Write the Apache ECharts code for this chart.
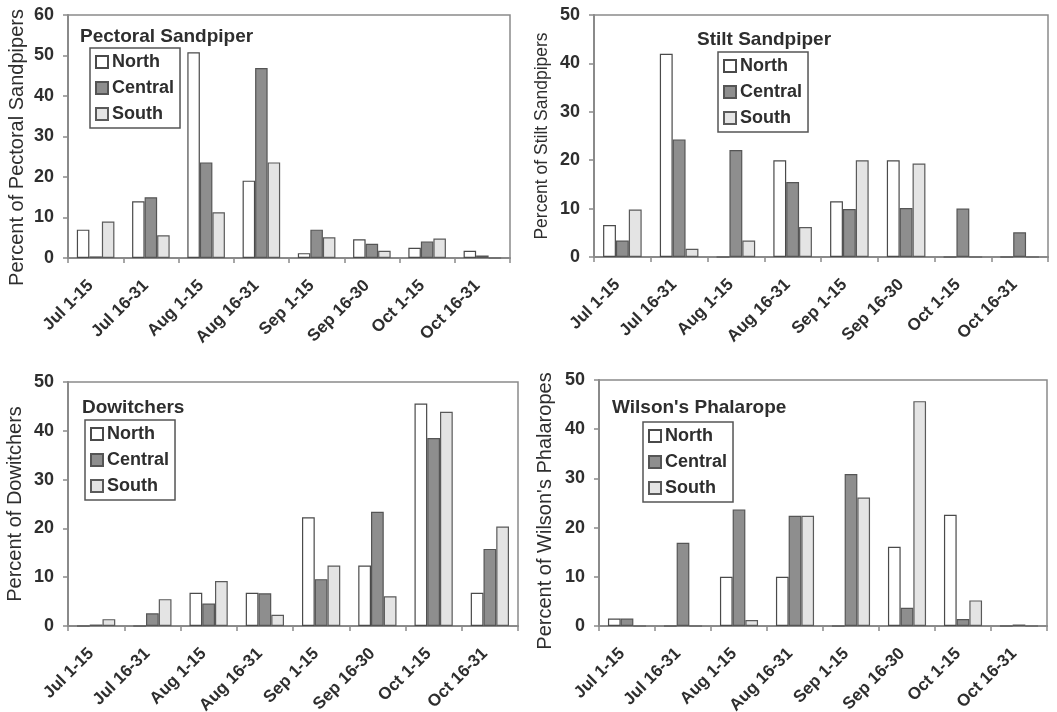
<!DOCTYPE html>
<html>
<head>
<meta charset="utf-8">
<script src="https://cdn.jsdelivr.net/npm/echarts@6/dist/echarts.min.js"></script>
<style>html,body{margin:0;padding:0;background:#fff;}#c{width:1057px;height:712px;}</style>
</head>
<body>
<div id="c"></div>
<script>
var categories = ['Jul 1-15','Jul 16-31','Aug 1-15','Aug 16-31','Sep 1-15','Sep 16-30','Oct 1-15','Oct 16-31'];
var seriesNames = ['North','Central','South'];

var pectoralNorth   = [7.0, 14.0, 50.8, 19.1, 1.2, 4.6, 2.5, 1.8];
var pectoralCentral = [0.4, 15.0, 23.6, 46.9, 7.0, 3.5, 4.1, 0.6];
var pectoralSouth   = [9.0, 5.6, 11.3, 23.6, 5.1, 1.8, 4.8, 0];

var stiltNorth   = [6.6, 42.0, 0, 20.0, 11.5, 20.0, 0, 0];
var stiltCentral = [3.4, 24.3, 22.1, 15.5, 9.9, 10.1, 10.0, 5.1];
var stiltSouth   = [9.8, 1.7, 3.4, 6.2, 20.0, 19.3, 0, 0];

var dowitNorth   = [0, 0, 6.8, 6.8, 22.3, 12.4, 45.6, 6.8];
var dowitCentral = [0.3, 2.6, 4.6, 6.7, 9.6, 23.4, 38.5, 15.8];
var dowitSouth   = [1.4, 5.5, 9.2, 2.3, 12.4, 6.1, 43.9, 20.4];

var wilsonNorth   = [1.5, 0, 10.0, 10.0, 0, 16.1, 22.6, 0];
var wilsonCentral = [1.5, 16.9, 23.7, 22.4, 30.9, 3.7, 1.4, 0.3];
var wilsonSouth   = [0, 0, 1.2, 22.4, 26.1, 45.7, 5.2, 0];

var panelTitles = ['Pectoral Sandpiper','Stilt Sandpiper','Dowitchers',"Wilson's Phalarope"];
var yNames = ['Percent of Pectoral Sandpipers','Percent of Stilt Sandpipers','Percent of Dowitchers',"Percent of Wilson's Phalaropes"];
var yMax = [60, 50, 50, 50];

var panelData = [
  [pectoralNorth, pectoralCentral, pectoralSouth],
  [stiltNorth, stiltCentral, stiltSouth],
  [dowitNorth, dowitCentral, dowitSouth],
  [wilsonNorth, wilsonCentral, wilsonSouth]
];

var grids = [
  {left: 68, top: 15, width: 442, height: 243},
  {left: 594, top: 15, width: 454, height: 242},
  {left: 68, top: 382, width: 450, height: 244},
  {left: 599, top: 380, width: 448, height: 246}
];
var titlePos = [{left: 80, top: 27}, {left: 697, top: 30}, {left: 82, top: 398}, {left: 612, top: 398}];
var legendPos = [{left: 90, top: 48}, {left: 718, top: 52}, {left: 85, top: 420}, {left: 643, top: 422}];
var nameGaps = [41, 43, 43, 44];
var nameSizes = [20, 17.5, 20, 20];
var namePads = [[0, 22, 0, 0], [0, 0, 0, 0], [0, 0, 0, 0], [0, 16, 0, 0]];

var fills = ['#ffffff', '#8e8e8e', '#e4e4e4'];
var borders = ['#4a4a4a', '#555555', '#5a5a5a'];
var textColor = '#2e2e2e';
var axisColor = '#8a8a8a';
var font = 'Liberation Sans, Arial, sans-serif';

var option = {
  backgroundColor: '#fff',
  animation: false,
  grid: [], xAxis: [], yAxis: [], series: [], title: [], legend: []
};

for (var p = 0; p < 4; p++) {
  var g = grids[p];
  option.grid.push({left: g.left, top: g.top, width: g.width, height: g.height, show: true, borderColor: axisColor, borderWidth: 1.5, backgroundColor: 'transparent', containLabel: false, outerBoundsMode: 'none'});
  option.xAxis.push({
    type: 'category', gridIndex: p, data: categories, boundaryGap: true,
    axisLine: {lineStyle: {color: axisColor, width: 2}},
    axisTick: {show: true, alignWithLabel: false, length: 5, lineStyle: {color: axisColor, width: 1.5}},
    axisLabel: {interval: 0, rotate: 45, margin: 20, padding: [0, 7, 0, 0], color: textColor, fontFamily: font, fontWeight: 'bold', fontSize: 17}
  });
  option.yAxis.push({
    type: 'value', gridIndex: p, min: 0, max: yMax[p], interval: 10,
    name: yNames[p], nameLocation: 'middle', nameGap: nameGaps[p], nameRotate: 90,
    nameTextStyle: {color: textColor, fontFamily: font, fontSize: nameSizes[p], padding: namePads[p]},
    axisLine: {show: true, lineStyle: {color: axisColor, width: 2}},
    axisTick: {show: true, length: 5, lineStyle: {color: axisColor, width: 1.5}},
    splitLine: {show: false},
    axisLabel: {margin: 14, color: textColor, fontFamily: font, fontWeight: 'bold', fontSize: 18}
  });
  for (var s = 0; s < 3; s++) {
    option.series.push({
      type: 'bar', name: seriesNames[s], xAxisIndex: p, yAxisIndex: p,
      data: panelData[p][s], barGap: '0%', barCategoryGap: '32%',
      itemStyle: {color: fills[s], borderColor: borders[s], borderWidth: 1.2}
    });
  }
  option.title.push({
    text: panelTitles[p], left: titlePos[p].left, top: titlePos[p].top, padding: 0,
    textStyle: {color: textColor, fontFamily: font, fontWeight: 'bold', fontSize: 19}
  });
  option.legend.push({
    data: seriesNames, orient: 'vertical', left: legendPos[p].left, top: legendPos[p].top,
    icon: 'rect', padding: [5, 6, 5, 5], itemGap: 8, itemWidth: 12, itemHeight: 12, selectedMode: false,
    borderColor: '#555', borderWidth: 1.5, backgroundColor: '#fff',
    textStyle: {color: textColor, fontFamily: font, fontWeight: 'bold', fontSize: 18, padding: [0, 0, 0, -1]}
  });
}

var chart = echarts.init(document.getElementById('c'), null, {renderer: 'canvas'});
chart.setOption(option);
</script>
</body>
</html>
